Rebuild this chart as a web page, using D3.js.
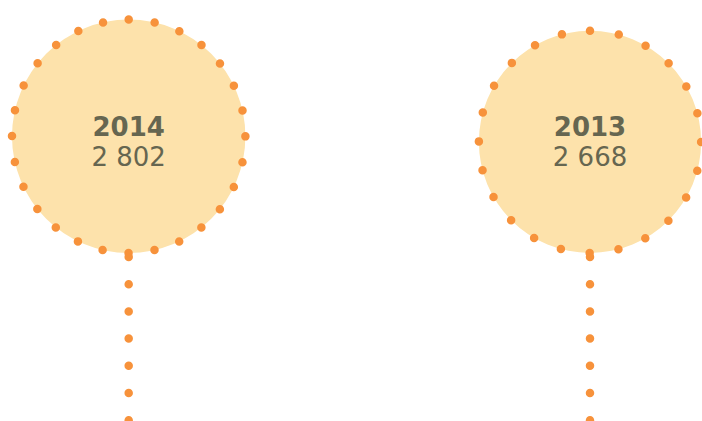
<!DOCTYPE html>
<html>
<head>
<meta charset="utf-8">
<script src="https://cdn.jsdelivr.net/npm/d3@7"></script>
<style>
  html, body { margin: 0; padding: 0; background: #fff; overflow: hidden; }
  svg { display: block; }
</style>
</head>
<body>
<script>
// data
var years = ["2014", "2013"]
var values = [2802, 2668]
var valueLabels = ["2 802", "2 668"]

var width = 702
var height = 421
var baseY = 253          // circles sit on this line
var lineStartY = 257
var dotsPerRing = [28, 24]
var dotGap = 27.2
var dotSize = 8.5

var fillColor = "#fde2ab"
var dotColor = "#f7923b"
var textColor = "#666650"

var svg = d3.select("body").append("svg")
    .attr("width", width)
    .attr("height", height)

var xScale = d3.scalePoint()
    .domain(years)
    .range([128.7, 590])

var rScale = d3.scaleLinear()
    .domain([0, d3.max(values)])
    .range([0, 116.7])

var nodes = svg.selectAll("g.node")
    .data(years)
    .enter()
    .append("g")
    .attr("class", "node")
    .attr("transform", function(d) { return "translate(" + xScale(d) + ",0)" })

// vertical dotted stem
nodes.append("line")
    .attr("x1", 0)
    .attr("x2", 0)
    .attr("y1", lineStartY)
    .attr("y2", height + 10)
    .attr("stroke", dotColor)
    .attr("stroke-width", dotSize)
    .attr("stroke-linecap", "round")
    .attr("stroke-dasharray", "0," + dotGap)

// filled circle with dotted rim, drawn as a path starting at the top
nodes.append("path")
    .attr("d", function(d, i) {
        var r = rScale(values[i])
        var cy = baseY - r
        var p = d3.path()
        p.moveTo(0, cy - r)
        p.arc(0, cy, r, -Math.PI / 2, Math.PI * 1.5)
        return p.toString()
    })
    .attr("fill", fillColor)
    .attr("stroke", dotColor)
    .attr("stroke-width", dotSize)
    .attr("stroke-linecap", "round")
    .attr("stroke-dasharray", function(d, i) {
        var r = rScale(values[i])
        return "0," + (2 * Math.PI * r / dotsPerRing[i])
    })

nodes.append("text")
    .attr("x", 0)
    .attr("y", 136)
    .attr("text-anchor", "middle")
    .attr("font-family", "DejaVu Sans, Verdana, sans-serif")
    .attr("font-weight", "bold")
    .attr("font-size", "26px")
    .attr("fill", textColor)
    .text(function(d) { return d })

nodes.append("text")
    .attr("x", 0)
    .attr("y", 166)
    .attr("text-anchor", "middle")
    .attr("font-family", "DejaVu Sans, Verdana, sans-serif")
    .attr("font-size", "26px")
    .attr("fill", textColor)
    .text(function(d, i) { return valueLabels[i] })
</script>
</body>
</html>
